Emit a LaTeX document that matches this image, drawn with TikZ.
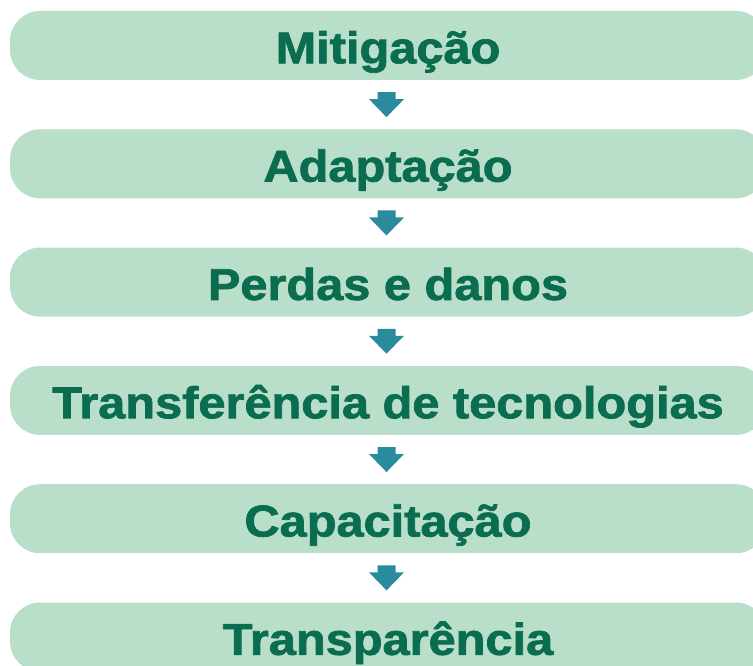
\documentclass[tikz,border=0pt]{standalone}
\usepackage{fontspec}
\setmainfont{Liberation Sans}
\newfontfamily\heavyfont{Liberation Sans Bold}[FakeBold=1.6]
\usetikzlibrary{calc}
\definecolor{boxfill}{RGB}{185,223,203}
\definecolor{textgreen}{RGB}{11,109,79}
\definecolor{arrowteal}{RGB}{42,139,156}
\tikzset{
  stagebox/.style={rectangle, rounded corners=30pt, fill=boxfill, draw=none,
    minimum width=756pt, minimum height=69pt, inner sep=0pt,
    text height=35.6pt, text depth=0pt, text=textgreen,
    font=\heavyfont\fontsize{44.5pt}{48pt}\selectfont},
  downarrow/.pic={
    \fill[arrowteal] (-9,-12.5) -- (9,-12.5) -- (9,-5.5) -- (17.5,-5.5)
      -- (0,12.5) -- (-17.5,-5.5) -- (-9,-5.5) -- cycle;
  }
}
\newcommand{\wide}[1]{\scalebox{1.095}[1]{#1}}
\begin{document}
\begin{tikzpicture}[x=1pt,y=-1pt]
\useasboundingbox (0,0) rectangle (753,666);
\clip (0,0) rectangle (753,666);
\node[stagebox] (b1) at (388,45.5)  {\wide{Mitigação}};
\node[stagebox] (b2) at (388,163.8) {\wide{Adaptação}};
\node[stagebox] (b3) at (388,282.1) {\wide{Perdas e danos}};
\node[stagebox] (b4) at (388,400.4) {\wide{Transferência de tecnologias}};
\node[stagebox] (b5) at (388,518.7) {\wide{Capacitação}};
\node[stagebox] (b6) at (388,637.0) {\wide{Transparência}};
\foreach \i/\j in {1/2,2/3,3/4,4/5,5/6}{
  \pic (a\i) at ($(b\i.south)!.5!(b\j.north)+(-1.5,0)$) {downarrow};
}
\end{tikzpicture}
\end{document}
